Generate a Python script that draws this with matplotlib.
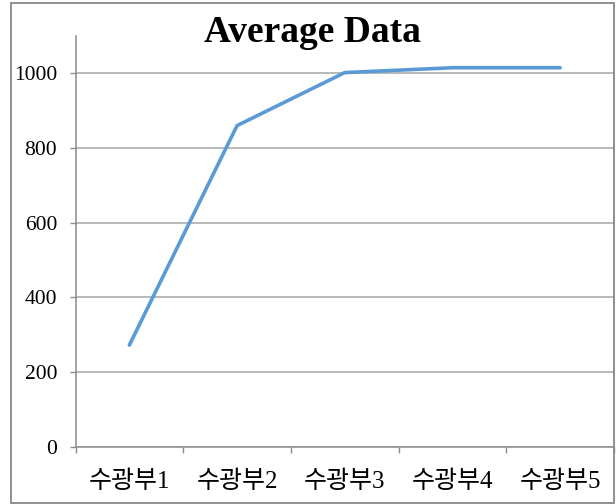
import matplotlib
matplotlib.use("Agg")
import matplotlib.pyplot as plt
from matplotlib.patches import Rectangle

categories = ["수광부1", "수광부2", "수광부3", "수광부4", "수광부5"]
values = [272, 860, 1002, 1015, 1015]
yticks = [0, 200, 400, 600, 800, 1000]
title = "Average Data"

W, H = 616, 504
fig = plt.figure(figsize=(W / 100, H / 100), dpi=100)
fig.patch.set_facecolor("white")

left, right = 75.5 / W, 614 / W
bottom, top = (H - 446.7) / H, (H - 36) / H
ax = fig.add_axes([left, bottom, right - left, top - bottom])

x = list(range(len(categories)))
ax.plot(x, values, color="#5b9bd5", linewidth=2.6, solid_capstyle="round", zorder=3)

ax.set_xlim(-0.5, len(categories) - 0.5)
ax.set_ylim(0, 1100)
ax.set_yticks(yticks)
ax.set_yticklabels([str(t) for t in yticks], family=["Liberation Serif"], fontsize=15.5)
ax.set_xticks(x)
ax.set_xticklabels(categories, family=["Liberation Serif", "Noto Sans CJK KR"], fontsize=18)
ax.set_xticks([i - 0.5 for i in range(len(categories) + 1)], minor=True)

ax.tick_params(axis="x", which="major", length=0, pad=17)
ax.tick_params(axis="x", which="minor", length=4.5, width=1, color="#8c8c8c", direction="out")
ax.tick_params(axis="y", length=4.3, width=1, color="#8c8c8c", pad=9)

ax.grid(axis="y", color="#a6a6a6", linewidth=1.1, zorder=1)
ax.set_axisbelow(True)
for s in ["top", "right"]:
    ax.spines[s].set_visible(False)
for s in ["left", "bottom"]:
    ax.spines[s].set_color("#8c8c8c")
    ax.spines[s].set_linewidth(1.1)

fig.text(312 / W, 1 - 33 / H, title, ha="center", va="center",
         family=["Liberation Serif"], fontweight="bold", fontsize=27)

frame = Rectangle((11 / W, 1 - 503 / H), (614 - 11) / W, (503 - 2.5) / H,
                  transform=fig.transFigure, fill=False, edgecolor="#888888",
                  linewidth=1.3, zorder=10)
fig.patches.append(frame)

fig.savefig("out.png", dpi=100, facecolor="white")
